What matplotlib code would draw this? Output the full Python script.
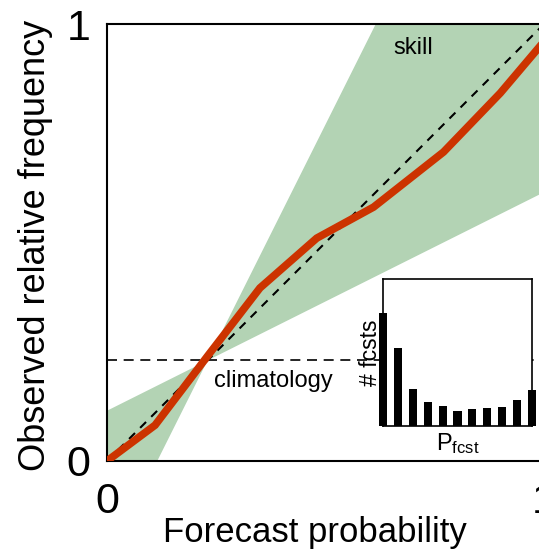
import numpy as np
import matplotlib.pyplot as plt

plt.rcParams['font.family'] = ['Liberation Sans', 'DejaVu Sans']
plt.rcParams['mathtext.fontset'] = 'custom'
plt.rcParams['mathtext.rm'] = 'Liberation Sans'

# reliability curve
fcst_prob = [0.0, 0.11, 0.23, 0.35, 0.48, 0.61, 0.77, 0.90, 1.0]
obs_freq = [0.0, 0.082, 0.24, 0.396, 0.51, 0.581, 0.707, 0.842, 0.96]
climatology = 0.23

# sharpness histogram
hist_bins = [0.0, 0.1, 0.2, 0.3, 0.4, 0.5, 0.6, 0.7, 0.8, 0.9, 1.0]
hist_counts = [113, 78, 37, 24, 20, 15, 17, 18, 19, 26, 36]
hist_top = 147

green = '#b3d3b4'
red = '#cc3300'

fig = plt.figure(figsize=(5.39, 5.49), dpi=100)
ax = fig.add_axes([107 / 539, 88 / 549, 437 / 539, 437 / 549])
ax.set_xlim(0, 1)
ax.set_ylim(0, 1)

# skill zone: between the no-skill line (slope 1/2) and slope 2 through (c, c)
c = climatology
lower = [(0, 0), (0, c / 2), (c, c), (c / 2, 0)]
upper = [(c, c), (c + (1 - c) / 2, 1), (1, 1), (1, c + (1 - c) / 2)]
for poly in (lower, upper):
    xs, ys = zip(*poly)
    ax.fill(xs, ys, color=green, lw=0, zorder=1)

ax.plot([0, 1], [0, 1], color='black', lw=1.5, ls=(0, (4, 3.5)), zorder=2)
ax.axhline(c, color='black', lw=1.2, ls=(0, (6, 4)), zorder=2)
ax.plot(fcst_prob, obs_freq, color=red, lw=5.5, solid_joinstyle='miter', zorder=3)

ax.text(0.70, 0.945, 'skill', fontsize=17, ha='center', va='center')
ax.text(0.38, 0.182, 'climatology', fontsize=17, ha='center', va='center')

ax.set_xticks([0, 1])
ax.set_yticks([0, 1])
ax.set_xticklabels(['0', '1'])
ax.set_yticklabels(['0', '1'])
ax.tick_params(length=0, labelsize=31)
ax.tick_params(axis='y', pad=12)
ax.tick_params(axis='x', pad=15)
ax.set_xlabel('Forecast probability', fontsize=25)
ax.set_ylabel('Observed relative frequency', fontsize=26)
ax.xaxis.set_label_coords(0.476, -0.125)
ax.yaxis.set_label_coords(-0.124, 0.494)
for side in ax.spines.values():
    side.set_linewidth(1.5)

# inset histogram of forecast probabilities
ins = fig.add_axes([383 / 539, 123 / 549, 149 / 539, 147 / 549])
ins.set_facecolor('white')
ins.bar(hist_bins, hist_counts, width=0.055, color='black', clip_on=False)
ins.set_xlim(0, 1)
ins.set_ylim(0, hist_top)
ins.set_xticks([])
ins.set_yticks([])
for side in ins.spines.values():
    side.set_linewidth(1.2)
ins.set_xlabel(r'$\mathrm{P_{fcst}}$', fontsize=17, labelpad=4)
ins.set_ylabel('# fcsts', fontsize=16.5, labelpad=1)

fig.savefig('out.png', dpi=100)
